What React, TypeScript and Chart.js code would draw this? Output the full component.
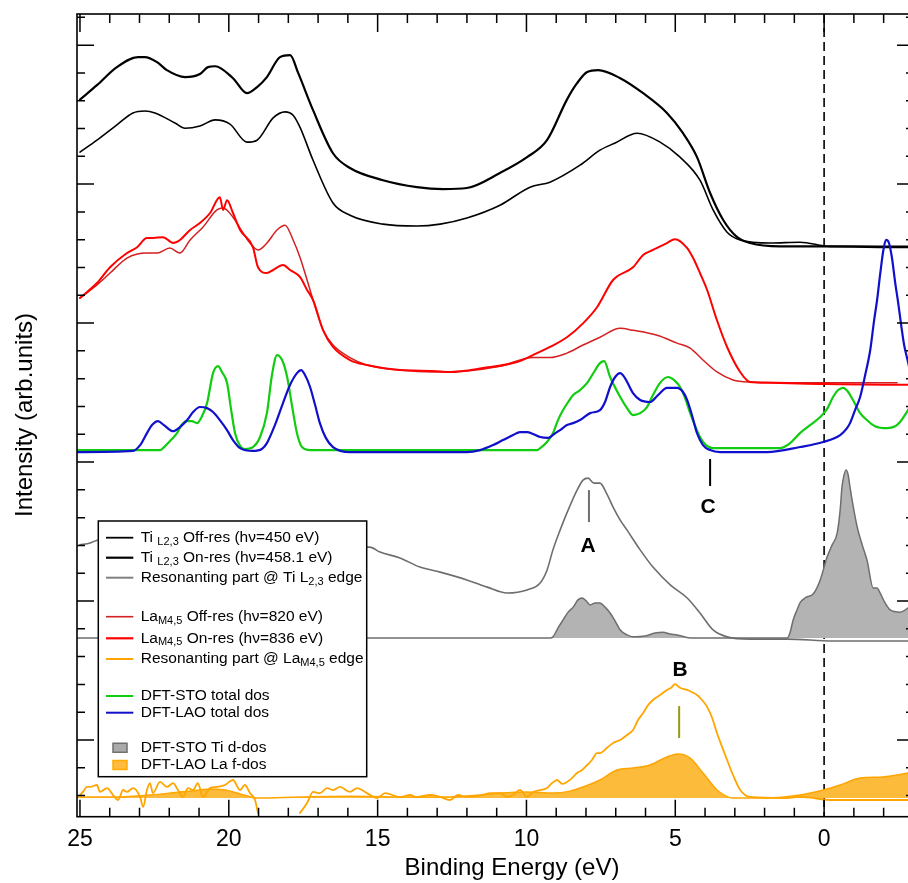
import React, { useEffect, useRef } from "react";
import { Chart, registerables } from "chart.js";

Chart.register(...registerables);

type P = [number, number | null];

// ---- axes ----
const X_MIN = -3.02;
const X_MAX = 25.1;
const Y_MIN = -0.76;
const Y_MAX = 28.12;
const xTickLabels = [25, 20, 15, 10, 5, 0];
const xTitle = "Binding Energy (eV)";
const yTitle = "Intensity (arb.units)";

// ---- experimental spectra (binding energy eV, intensity arb.) ----
const tiOnRes: P[] = [
  [25.0, 25.04], [24.43, 25.56], [23.76, 26.21], [23.05, 26.57], [22.82, 26.57], [22.41, 26.39],
  [22.08, 26.1], [21.47, 25.85], [20.97, 25.96], [20.7, 26.21], [20.46, 26.24], [19.86, 25.81],
  [19.39, 25.27], [19.05, 25.49], [18.72, 25.85], [18.28, 26.57], [17.94, 26.64], [17.67, 26.0],
  [17.17, 24.66], [16.5, 23.11], [15.93, 22.58], [14.82, 22.14], [13.68, 21.89], [12.8, 21.82],
  [12.0, 21.86], [10.89, 22.4], [9.98, 22.97], [9.31, 23.58], [8.64, 25.04], [8.3, 25.63],
  [7.96, 26.03], [7.59, 26.1], [6.85, 25.81], [6.08, 25.27], [5.28, 24.56], [4.74, 23.83],
  [4.27, 22.97], [3.83, 21.68], [3.39, 20.71], [2.92, 20.09], [2.49, 19.88], [1.48, 19.76],
  [0.0, 19.76], [-2.82, 19.73], [-3.02, 19.73],
];
const tiOffRes: P[] = [
  [25.0, 23.15], [24.43, 23.58], [23.76, 24.13], [23.22, 24.56], [22.82, 24.63], [22.48, 24.56],
  [21.81, 24.2], [21.47, 24.01], [20.97, 24.09], [20.46, 24.31], [19.96, 24.16], [19.39, 23.51],
  [19.05, 23.58], [18.51, 24.38], [18.11, 24.6], [17.84, 24.48], [17.61, 24.05], [17.17, 22.86],
  [16.5, 21.32], [15.93, 20.88], [14.82, 20.56], [13.68, 20.49], [12.9, 20.56], [12.0, 20.78],
  [10.89, 21.24], [9.88, 21.89], [9.21, 22.07], [8.2, 22.68], [7.53, 23.22], [7.02, 23.48],
  [6.28, 23.83], [5.51, 23.51], [4.84, 22.97], [4.17, 22.14], [3.73, 21.07], [3.26, 20.27],
  [2.82, 19.99], [1.81, 19.88], [0.81, 19.91], [-0.2, 19.76], [-2.82, 19.76], [-3.02, 19.76],
];
const laOnRes: P[] = [
  [25.0, 17.9], [24.43, 18.44], [23.99, 19.01], [23.42, 19.52], [23.08, 19.73], [22.75, 20.06],
  [22.55, 20.06], [22.21, 20.09], [21.87, 19.88], [21.64, 19.99], [21.3, 20.35], [20.97, 20.6],
  [20.63, 20.96], [20.3, 21.53], [20.19, 21.07], [20.06, 21.42], [19.86, 20.96], [19.62, 20.35],
  [19.19, 19.73], [19.02, 19.01], [18.72, 18.8], [18.51, 18.91], [18.18, 19.09], [17.94, 18.91],
  [17.61, 18.66], [17.37, 18.19], [17.17, 17.83], [16.83, 16.74], [16.5, 16.14], [15.93, 15.67],
  [15.36, 15.49], [14.25, 15.31], [13.14, 15.28], [12.57, 15.24], [11.46, 15.38], [10.32, 15.6],
  [9.78, 15.85], [9.21, 16.14], [8.64, 16.49], [8.1, 16.99], [7.63, 17.57], [7.09, 18.55],
  [6.42, 19.01], [6.08, 19.45], [5.75, 19.63], [5.28, 19.88], [5.01, 20.02], [4.6, 19.7],
  [4.4, 19.34], [4.17, 18.8], [3.93, 18.19], [3.6, 17.1], [3.26, 16.14], [2.82, 15.24],
  [2.49, 14.88], [1.92, 14.85], [0.0, 14.81], [-2.82, 14.78], [-3.02, 14.78],
];
const laOffRes: P[] = [
  [25.0, 17.9], [24.43, 18.37], [23.99, 18.8], [23.42, 19.34], [22.75, 19.52], [22.41, 19.52],
  [21.98, 19.7], [21.64, 19.52], [21.3, 19.99], [20.87, 20.45], [20.4, 21.07], [20.19, 21.14],
  [19.86, 20.81], [19.52, 20.24], [19.29, 19.88], [19.02, 19.63], [18.72, 19.88], [18.38, 20.35],
  [18.11, 20.52], [17.84, 19.99], [17.61, 19.37], [17.37, 18.55], [17.17, 17.83], [16.83, 16.74],
  [16.5, 16.21], [15.93, 15.76], [15.36, 15.49], [14.25, 15.31], [13.14, 15.24], [12.0, 15.28],
  [10.89, 15.45], [9.78, 15.76], [9.21, 15.76], [8.64, 15.92], [8.1, 16.21], [7.53, 16.49],
  [6.85, 16.81], [6.42, 16.74], [5.61, 16.56], [4.94, 16.28], [4.5, 16.1], [4.07, 15.67],
  [3.6, 15.24], [3.06, 14.95], [2.49, 14.88], [0.0, 14.85], [-2.45, 14.85],
];
const tiResonant: P[] = [
  [25.0, 9.02], [24.66, 9.09], [24.43, 9.19], [24.3, null],
  [15.36, 8.94], [15.26, 8.94], [14.92, 8.76], [14.25, 8.55], [13.58, 8.22], [12.9, 8.04],
  [12.0, 7.76], [11.32, 7.5], [10.65, 7.29], [9.98, 7.4], [9.54, 7.65], [9.31, 8.11],
  [9.11, 8.84], [8.87, 9.55], [8.64, 10.17], [8.3, 10.99], [8.1, 11.35], [7.93, 11.42],
  [7.73, 11.24], [7.53, 11.24], [7.33, 10.92], [7.09, 10.38], [6.85, 9.91], [6.62, 9.55],
  [6.18, 8.84], [5.75, 8.22], [5.17, 7.58], [4.6, 7.11], [4.17, 6.57], [3.73, 5.96],
  [3.26, 5.71], [2.49, 5.63], [1.24, 5.63], [-0.3, 5.56], [-3.02, 5.56],
];
const laResonant: P[] = [
  [25.0, 0.02], [24.9, 0.13], [24.76, 0.31], [24.66, 0.31], [24.43, 0.38], [24.33, 0.13],
  [24.09, 0.27], [23.89, 0.02], [23.72, -0.16], [23.55, 0.2], [23.42, 0.13], [23.22, 0.27],
  [22.98, -0.05], [22.88, -0.41], [22.75, 0.2], [22.65, 0.45], [22.55, 0.09], [22.31, 0.49],
  [22.08, 0.31], [21.87, 0.45], [21.71, 0.2], [21.54, -0.05], [21.37, 0.27], [21.2, 0.2],
  [21.04, 0.45], [20.87, -0.05], [20.63, 0.27], [20.4, 0.31], [20.13, 0.38], [19.86, 0.56],
  [19.62, 0.2], [19.46, 0.38], [19.29, 0.09], [19.12, -0.16], [19.02, -0.63], [18.3, null],
  [17.61, -0.63], [17.37, -0.27], [17.17, 0.13], [16.94, 0.09], [16.7, 0.27], [16.5, 0.2],
  [16.26, 0.31], [15.93, 0.13], [15.69, 0.27], [15.36, 0.09], [15.02, -0.09], [14.75, 0.09],
  [14.25, -0.05], [13.91, 0.02], [13.68, -0.05], [13.24, 0.02], [12.9, -0.05], [12.57, -0.16],
  [12.3, 0.02], [12.0, -0.05], [11.46, 0.02], [11.22, 0.09], [10.89, 0.09], [10.65, -0.05],
  [10.45, 0.02], [10.22, 0.2], [9.98, -0.05], [9.78, 0.13], [9.54, 0.2], [9.31, 0.27],
  [9.14, 0.45], [8.97, 0.56], [8.8, 0.42], [8.64, 0.49], [8.47, 0.63], [8.3, 0.81],
  [8.13, 0.92], [7.96, 1.1], [7.8, 1.28], [7.63, 1.53], [7.53, 1.53], [7.29, 1.72],
  [7.09, 1.89], [6.85, 2.0], [6.62, 2.18], [6.42, 2.36], [6.25, 2.72], [6.08, 2.97],
  [5.91, 3.26], [5.75, 3.44], [5.51, 3.62], [5.28, 3.8], [5.14, 3.88], [5.01, 4.01],
  [4.84, 3.88], [4.6, 3.8], [4.44, 3.72], [4.27, 3.62], [4.1, 3.44], [3.93, 3.19],
  [3.76, 2.79], [3.6, 2.25], [3.43, 1.76], [3.26, 1.28], [3.06, 0.74], [2.82, 0.2],
  [2.49, -0.05], [1.38, -0.09], [0.81, -0.05], [-0.3, -0.16], [-3.02, -0.16],
];

// ---- DFT total densities of states ----
const dftStoTotal: P[] = [
  [25.1, 12.43], [22.3, 12.43], [22.21, 12.5], [21.98, 12.75], [21.74, 13.04], [21.57, 13.36],
  [21.4, 13.47], [21.24, 13.47], [21.07, 13.4], [20.9, 13.65], [20.73, 14.12], [20.53, 15.2],
  [20.36, 15.45], [20.23, 15.24], [20.06, 14.85], [19.92, 13.87], [19.79, 13.04], [19.62, 12.58],
  [19.46, 12.47], [19.19, 12.54], [18.95, 12.9], [18.72, 13.76], [18.55, 15.13], [18.38, 15.85],
  [18.21, 15.67], [18.04, 15.06], [17.88, 14.05], [17.71, 13.04], [17.54, 12.54], [17.27, 12.43],
  [9.64, 12.43], [9.54, 12.5], [9.31, 12.72], [9.11, 13.04], [8.94, 13.51], [8.77, 13.87],
  [8.6, 14.16], [8.43, 14.41], [8.2, 14.59], [7.96, 14.85], [7.73, 15.24], [7.53, 15.56],
  [7.39, 15.63], [7.19, 15.06], [6.85, 14.34], [6.62, 13.94], [6.42, 13.69], [6.18, 13.76],
  [5.95, 13.98], [5.75, 14.41], [5.51, 14.85], [5.24, 15.06], [5.01, 14.92], [4.84, 14.7],
  [4.67, 14.3], [4.5, 13.76], [4.33, 13.29], [4.17, 12.9], [3.97, 12.61], [3.73, 12.5],
  [1.48, 12.5], [1.14, 12.68], [0.81, 13.04], [0.47, 13.33], [0.13, 13.62], [-0.1, 13.91],
  [-0.3, 14.34], [-0.47, 14.59], [-0.64, 14.67], [-0.81, 14.52], [-0.97, 14.23], [-1.21, 13.76],
  [-1.44, 13.51], [-1.71, 13.29], [-2.12, 13.22], [-2.39, 13.29], [-2.55, 13.44], [-2.82, 13.87],
  [-3.02, 14.23],
];
const dftLaoTotal: P[] = [
  [25.1, 12.36], [23.22, 12.4], [22.98, 12.61], [22.75, 13.04], [22.58, 13.33], [22.38, 13.47],
  [22.18, 13.33], [21.87, 13.11], [21.64, 13.26], [21.4, 13.51], [21.2, 13.8], [20.97, 13.98],
  [20.73, 13.94], [20.53, 13.8], [20.3, 13.51], [20.06, 13.15], [19.86, 12.79], [19.62, 12.5],
  [19.19, 12.4], [18.89, 12.47], [18.72, 12.68], [18.45, 13.33], [18.18, 14.12], [17.94, 14.78],
  [17.71, 15.2], [17.57, 15.31], [17.44, 15.13], [17.27, 14.7], [17.1, 14.05], [16.94, 13.4],
  [16.74, 12.87], [16.5, 12.54], [15.93, 12.36], [12.0, 12.36], [11.56, 12.43], [11.12, 12.61],
  [10.79, 12.79], [10.45, 12.97], [10.22, 13.08], [9.98, 13.08], [9.78, 13.01], [9.54, 12.9],
  [9.27, 12.87], [9.07, 13.01], [8.87, 13.15], [8.64, 13.33], [8.43, 13.4], [8.2, 13.51],
  [7.86, 13.76], [7.53, 13.87], [7.36, 14.16], [7.19, 14.7], [7.02, 15.06], [6.85, 15.2],
  [6.69, 15.02], [6.42, 14.48], [6.18, 14.23], [5.85, 14.16], [5.58, 14.41], [5.28, 14.67],
  [4.94, 14.67], [4.74, 14.52], [4.6, 14.23], [4.44, 13.69], [4.27, 13.04], [4.07, 12.61],
  [3.83, 12.43], [3.49, 12.36], [1.92, 12.36], [0.81, 12.54], [0.03, 12.72], [-0.54, 12.97],
  [-0.77, 13.22], [-0.87, 13.4], [-1.04, 13.87], [-1.21, 14.34], [-1.38, 15.13], [-1.55, 16.03],
  [-1.68, 17.1], [-1.78, 17.83], [-1.88, 18.73], [-1.98, 19.55], [-2.08, 19.99], [-2.18, 19.88],
  [-2.28, 19.34], [-2.39, 18.44], [-2.49, 17.72], [-2.59, 16.92], [-2.69, 16.2], [-2.82, 15.6],
  [-3.02, 14.59],
];

// ---- DFT partial densities of states (filled) ----
const tiDdosBase = 5.67;
const tiDdos: P[] = [
  [25.1, 5.67], [9.2, 5.67], [9.11, 5.71], [8.94, 6.03], [8.77, 6.32], [8.6, 6.6],
  [8.43, 6.78], [8.27, 7.04], [8.13, 7.11], [7.99, 7.0], [7.86, 6.86], [7.69, 6.93],
  [7.53, 6.93], [7.36, 6.78], [7.19, 6.57], [7.02, 6.28], [6.85, 5.96], [6.62, 5.78],
  [6.42, 5.71], [6.01, 5.74], [5.68, 5.85], [5.41, 5.88], [5.17, 5.81], [4.94, 5.78],
  [4.5, 5.67], [1.24, 5.67], [1.14, 5.88], [1.04, 6.32], [0.91, 6.68], [0.81, 6.93],
  [0.6, 7.14], [0.37, 7.25], [0.13, 7.76], [-0.1, 8.58], [-0.27, 9.02], [-0.44, 9.45],
  [-0.54, 10.28], [-0.6, 11.1], [-0.67, 11.53], [-0.74, 11.71], [-0.81, 11.53], [-0.87, 11.1],
  [-0.97, 10.45], [-1.11, 9.67], [-1.28, 9.02], [-1.44, 8.48], [-1.65, 7.47], [-1.78, 7.47],
  [-1.88, 7.29], [-2.05, 6.93], [-2.22, 6.68], [-2.55, 6.6], [-2.82, 6.75], [-3.02, 6.93],
];
const laFdosBase = -0.09;
const laFdos: P[] = [
  [25.1, -0.05], [25.0, -0.05], [23.65, -0.05], [22.65, 0.02], [21.64, 0.13], [20.97, 0.2],
  [20.63, 0.24], [20.13, 0.2], [19.62, 0.06], [19.05, -0.09], [17.61, -0.05], [15.93, -0.02],
  [14.25, -0.05], [12.57, -0.05], [11.56, 0.02], [10.89, 0.09], [9.98, 0.13], [9.11, 0.09],
  [8.54, 0.16], [8.1, 0.31], [7.53, 0.56], [6.96, 0.92], [6.42, 0.99], [5.85, 1.1],
  [5.28, 1.39], [4.91, 1.5], [4.5, 1.35], [4.07, 0.81], [3.83, 0.49], [3.6, 0.2],
  [3.06, -0.09], [1.92, -0.09], [0.81, 0.02], [0.03, 0.2], [-0.54, 0.38], [-1.21, 0.63],
  [-1.98, 0.67], [-2.82, 0.81], [-3.02, 0.85],
];

// ---- feature markers ----
const markerLabels = ["A", "B", "C"];
const markerLabelE = [7.93, 4.84, 3.9];
const markerLabelY = [8.98, 4.52, 10.38];
const markerTickE = [7.9, 4.87, 3.83];
const markerTickY0 = [10.99, 3.22, 12.11];
const markerTickY1 = [9.84, 2.07, 11.14];
const markerColors = ["#707070", "#9a9a12", "#000000"];

// ---- legend ----
type Seg = [string, boolean];
const legendRows: { segs: Seg[]; color: string; width: number; box?: string; boxBorder?: string }[] = [
  { segs: [["Ti ", false], ["L2,3", true], [" Off-res (hν=450 eV)", false]], color: "#000000", width: 1.8 },
  { segs: [["Ti ", false], ["L2,3", true], [" On-res (hν=458.1 eV)", false]], color: "#000000", width: 2.2 },
  { segs: [["Resonanting part @ Ti L", false], ["2,3", true], [" edge", false]], color: "#808080", width: 2 },
  { segs: [["La", false], ["M4,5", true], [" Off-res (hν=820 eV)", false]], color: "#d42020", width: 1.6 },
  { segs: [["La", false], ["M4,5", true], [" On-res (hν=836 eV)", false]], color: "#ff0000", width: 2.2 },
  { segs: [["Resonanting part @ La", false], ["M4,5", true], [" edge", false]], color: "#ffa500", width: 2 },
  { segs: [["DFT-STO total dos", false]], color: "#11cc11", width: 2 },
  { segs: [["DFT-LAO total dos", false]], color: "#1010cc", width: 2 },
  { segs: [["DFT-STO Ti d-dos", false]], color: "#707070", width: 1.5, box: "#aaaaaa", boxBorder: "#707070" },
  { segs: [["DFT-LAO La f-dos", false]], color: "#ffa500", width: 1.5, box: "#ffbb40", boxBorder: "#ffaa00" },
];
const legendRowY = [537.7, 557.7, 577.7, 616.7, 638.3, 659, 696, 712.7, 747.7, 765];

const FONT = "'Liberation Sans', Arial, Helvetica, sans-serif";

const toXY = (pts: P[]) => pts.map(([x, y]) => ({ x, y }));

const framePlugin = {
  id: "frame",
  beforeDatasetsDraw(chart: any) {
    const { ctx, chartArea: a, scales } = chart;
    const px = scales.x.getPixelForValue(0);
    ctx.save();
    ctx.strokeStyle = "#000";
    ctx.lineWidth = 1.6;
    ctx.setLineDash([9, 5]);
    ctx.beginPath();
    ctx.moveTo(px, a.top);
    ctx.lineTo(px, a.bottom);
    ctx.stroke();
    ctx.restore();
  },
  afterDatasetsDraw(chart: any) {
    const { ctx, chartArea: a, scales } = chart;
    const xs = scales.x;
    const ys = scales.y;
    ctx.save();

    // markers
    for (let i = 0; i < markerLabels.length; i++) {
      const tx = xs.getPixelForValue(markerTickE[i]);
      ctx.strokeStyle = markerColors[i];
      ctx.lineWidth = 2;
      ctx.beginPath();
      ctx.moveTo(tx, ys.getPixelForValue(markerTickY0[i]));
      ctx.lineTo(tx, ys.getPixelForValue(markerTickY1[i]));
      ctx.stroke();
      ctx.fillStyle = "#000";
      ctx.font = `bold 21px ${FONT}`;
      ctx.textAlign = "center";
      ctx.textBaseline = "middle";
      ctx.fillText(markerLabels[i], xs.getPixelForValue(markerLabelE[i]), ys.getPixelForValue(markerLabelY[i]));
    }

    // legend
    const lx = 98.3, ly = 521, lw = 268.4, lh = 255.7;
    ctx.fillStyle = "#fff";
    ctx.fillRect(lx, ly, lw, lh);
    ctx.strokeStyle = "#000";
    ctx.lineWidth = 1.5;
    ctx.strokeRect(lx, ly, lw, lh);
    ctx.textAlign = "left";
    ctx.textBaseline = "middle";
    legendRows.forEach((row, i) => {
      const y = legendRowY[i];
      if (row.box) {
        ctx.fillStyle = row.box;
        ctx.strokeStyle = row.boxBorder;
        ctx.lineWidth = 1.5;
        ctx.beginPath();
        ctx.rect(113, y - 4.5, 14, 9);
        ctx.fill();
        ctx.stroke();
      } else {
        ctx.strokeStyle = row.color;
        ctx.lineWidth = row.width;
        ctx.beginPath();
        ctx.moveTo(106, y);
        ctx.lineTo(133.3, y);
        ctx.stroke();
      }
      let cx = 140.7;
      ctx.fillStyle = "#000";
      for (const [t, sub] of row.segs) {
        ctx.font = sub ? `11px ${FONT}` : `15.5px ${FONT}`;
        ctx.fillText(t, cx, sub ? y + 4 : y);
        cx += ctx.measureText(t).width;
      }
    });

    // frame
    ctx.strokeStyle = "#000";
    ctx.lineWidth = 1.6;
    ctx.strokeRect(a.left, a.top, a.right - a.left, a.bottom - a.top);

    // x ticks (top and bottom, pointing inward)
    ctx.lineWidth = 1.5;
    for (let e = Math.ceil(X_MIN); e <= Math.floor(X_MAX); e++) {
      const px = xs.getPixelForValue(e);
      const major = e % 5 === 0;
      const lt = major ? 18 : 9;
      const lb = major ? 17 : 9;
      ctx.beginPath();
      ctx.moveTo(px, a.top);
      ctx.lineTo(px, a.top + lt);
      ctx.moveTo(px, a.bottom);
      ctx.lineTo(px, a.bottom - lb);
      ctx.stroke();
    }
    // y ticks (left and right, pointing inward)
    for (let v = Math.ceil(Y_MIN); v <= Math.floor(Y_MAX); v++) {
      const py = ys.getPixelForValue(v);
      const major = ((v % 5) + 5) % 5 === 2;
      const l = major ? 17 : 8;
      ctx.beginPath();
      ctx.moveTo(a.left, py);
      ctx.lineTo(a.left + l, py);
      ctx.moveTo(a.right, py);
      ctx.lineTo(a.right - l, py);
      ctx.stroke();
    }

    // tick labels
    ctx.fillStyle = "#000";
    ctx.font = `23px ${FONT}`;
    ctx.textAlign = "center";
    ctx.textBaseline = "middle";
    for (const t of xTickLabels) {
      ctx.fillText(String(t), xs.getPixelForValue(t), 840);
    }
    // titles
    ctx.font = `24px ${FONT}`;
    ctx.fillText(xTitle, 512, 868);
    ctx.save();
    ctx.translate(25, 415);
    ctx.rotate(-Math.PI / 2);
    ctx.fillText(yTitle, 0, 0);
    ctx.restore();

    ctx.restore();
  },
};

export default function App() {
  const ref = useRef<HTMLCanvasElement>(null);
  useEffect(() => {
    const canvas = ref.current;
    if (!canvas) return;
    const line = (data: P[], color: string, width: number) => ({
      data: toXY(data),
      borderColor: color,
      backgroundColor: color,
      borderWidth: width,
      pointRadius: 0,
      fill: false,
      spanGaps: false,
      cubicInterpolationMode: "monotone",
    });
    const chart = new Chart(canvas, {
      type: "line",
      data: {
        datasets: [
          line(dftLaoTotal, "#1010cc", 2.2),
          line(dftStoTotal, "#11cc11", 2.2),
          line(tiOnRes, "#000000", 2.2),
          line(tiOffRes, "#000000", 1.6),
          line(laOnRes, "#ff0000", 2),
          line(laOffRes, "#d42020", 1.5),
          line(tiResonant, "#6e6e6e", 1.6),
          line(laResonant, "#ffa500", 1.8),
          {
            data: toXY(tiDdos),
            borderColor: "#6e6e6e",
            backgroundColor: "#b3b3b3",
            borderWidth: 1.5,
            pointRadius: 0,
            fill: { value: tiDdosBase },
            cubicInterpolationMode: "monotone",
          },
          {
            data: toXY(laFdos),
            borderColor: "#ffa500",
            backgroundColor: "#fdbb3c",
            borderWidth: 1.5,
            pointRadius: 0,
            fill: { value: laFdosBase },
            cubicInterpolationMode: "monotone",
          },
        ] as any,
      },
      options: {
        animation: false,
        responsive: false,
        devicePixelRatio: 1,
        events: [],
        layout: { padding: { left: 77, right: 2, top: 14, bottom: 66.3 } },
        plugins: { legend: { display: false }, tooltip: { enabled: false } },
        scales: {
          x: { type: "linear", min: X_MIN, max: X_MAX, reverse: true, display: false },
          y: { type: "linear", min: Y_MIN, max: Y_MAX, display: false },
        },
        elements: { line: { borderJoinStyle: "round", borderCapStyle: "round" } },
      },
      plugins: [framePlugin],
    } as any);
    return () => chart.destroy();
  }, []);
  return (
    <div
      style={{
        position: "fixed",
        left: 0,
        top: 0,
        width: 908,
        height: 883,
        overflow: "hidden",
        background: "#fff",
      }}
    >
      <canvas ref={ref} width={916} height={883} style={{ display: "block", width: 916, height: 883 }} />
    </div>
  );
}
